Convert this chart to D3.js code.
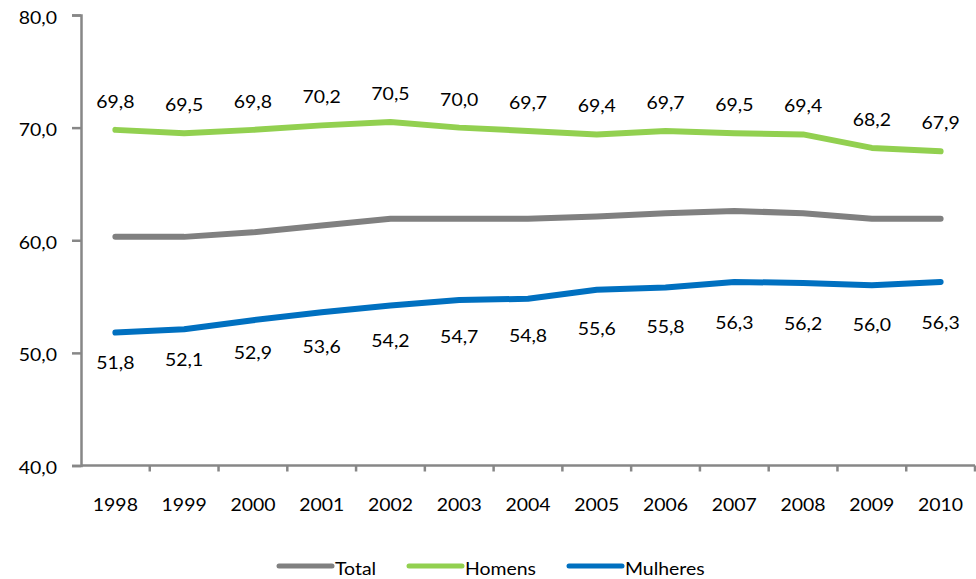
<!DOCTYPE html>
<html>
<head>
<meta charset="utf-8">
<script src="https://cdn.jsdelivr.net/npm/d3@7"></script>
<style>
  html, body { margin: 0; padding: 0; background: #fff; }
  svg { display: block; }
  text { font-family: Lato, "Open Sans", sans-serif; fill: #000; }
</style>
</head>
<body>
<svg id="chart" width="976" height="579"></svg>
<script>
// Taxa de participação por sexo, 1998–2010
const years = ["1998","1999","2000","2001","2002","2003","2004","2005","2006","2007","2008","2009","2010"];
const total    = [60.3, 60.3, 60.7, 61.3, 61.9, 61.9, 61.9, 62.1, 62.4, 62.6, 62.4, 61.9, 61.9];
const homens   = [69.8, 69.5, 69.8, 70.2, 70.5, 70.0, 69.7, 69.4, 69.7, 69.5, 69.4, 68.2, 67.9];
const mulheres = [51.8, 52.1, 52.9, 53.6, 54.2, 54.7, 54.8, 55.6, 55.8, 56.3, 56.2, 56.0, 56.3];
const yTicks = [40, 50, 60, 70, 80];
const seriesNames = ["Total", "Homens", "Mulheres"];
const seriesColors = ["#808080", "#92D050", "#0070C0"];

const fmt = v => d3.format(".1f")(v).replace(".", ",");
const SX = 1.08;          // horizontal widening of the Calibri-like text
const FS = "18px";

const svg = d3.select("#chart");
const plotLeft = 81, plotRight = 975, plotTop = 15, plotBottom = 465.5;

const x = d3.scalePoint().domain(years).range([plotLeft, plotRight]).padding(0.5);
const xBand = d3.scaleBand().domain(years).range([plotLeft, plotRight]);
const y = d3.scaleLinear().domain([40, 80]).range([plotBottom, plotTop]);

const axisColor = "#878787";

// widen text horizontally while keeping its anchor point
function widen(sel) {
  sel.each(function () {
    const t = d3.select(this);
    const xx = +(t.attr("x") || 0);
    t.attr("x", xx / SX).attr("transform", `scale(${SX},1)`);
  });
}

// Y axis
const gy = svg.append("g")
  .attr("transform", `translate(${plotLeft},0)`)
  .call(d3.axisLeft(y).tickValues(yTicks).tickSize(9).tickPadding(15).tickFormat(fmt));
gy.select(".domain").attr("stroke", axisColor).attr("stroke-width", 2.5);
gy.selectAll(".tick line").attr("stroke", axisColor).attr("stroke-width", 2.5);
gy.selectAll(".tick text").style("font-size", FS).attr("dy", "0.45em").call(widen);

// X axis: ticks at category boundaries, labels at category centres
const boundaries = years.map(d => xBand(d)).concat([plotRight]);
const gx = svg.append("g").attr("transform", `translate(0,${plotBottom})`);
gx.append("line").attr("x1", plotLeft).attr("x2", plotRight)
  .attr("stroke", axisColor).attr("stroke-width", 2.5);
gx.selectAll("line.tk").data(boundaries.slice(1)).join("line")
  .attr("class", "tk")
  .attr("x1", d => d).attr("x2", d => d).attr("y1", 0).attr("y2", 6)
  .attr("stroke", axisColor).attr("stroke-width", 2.5);
gx.selectAll("text").data(years).join("text")
  .attr("x", d => x(d)).attr("y", 45.5)
  .attr("text-anchor", "middle").style("font-size", FS)
  .text(d => d).call(widen);

// Series lines
const data = [total, homens, mulheres];
const line = d3.line().x((d, i) => x(years[i])).y(d => y(d));
svg.selectAll("path.series").data(data).join("path")
  .attr("class", "series")
  .attr("d", line)
  .attr("fill", "none")
  .attr("stroke", (d, i) => seriesColors[i])
  .attr("stroke-width", 6)
  .attr("stroke-linejoin", "round")
  .attr("stroke-linecap", "round");

// Data labels: Homens above the line
svg.append("g").selectAll("text").data(homens).join("text")
  .attr("x", (d, i) => x(years[i])).attr("y", d => y(d) - 22)
  .attr("text-anchor", "middle").style("font-size", FS)
  .text(fmt).call(widen);

// Mulheres below the line, on a slightly flatter band than the line itself
const yBelow = v => 106 + 0.79 * y(v);
svg.append("g").selectAll("text").data(mulheres).join("text")
  .attr("x", (d, i) => x(years[i])).attr("y", d => yBelow(d))
  .attr("text-anchor", "middle").style("font-size", FS)
  .text(fmt).call(widen);

// Legend
const legendX = [279, 409, 569];
const lg = svg.append("g");
seriesNames.forEach((name, i) => {
  lg.append("line")
    .attr("x1", legendX[i]).attr("x2", legendX[i] + 53)
    .attr("y1", 566).attr("y2", 566)
    .attr("stroke", seriesColors[i]).attr("stroke-width", 5)
    .attr("stroke-linecap", "round");
  lg.append("text")
    .attr("x", legendX[i] + 56).attr("y", 575.5)
    .style("font-size", FS)
    .text(name).call(widen);
});
</script>
</body>
</html>
